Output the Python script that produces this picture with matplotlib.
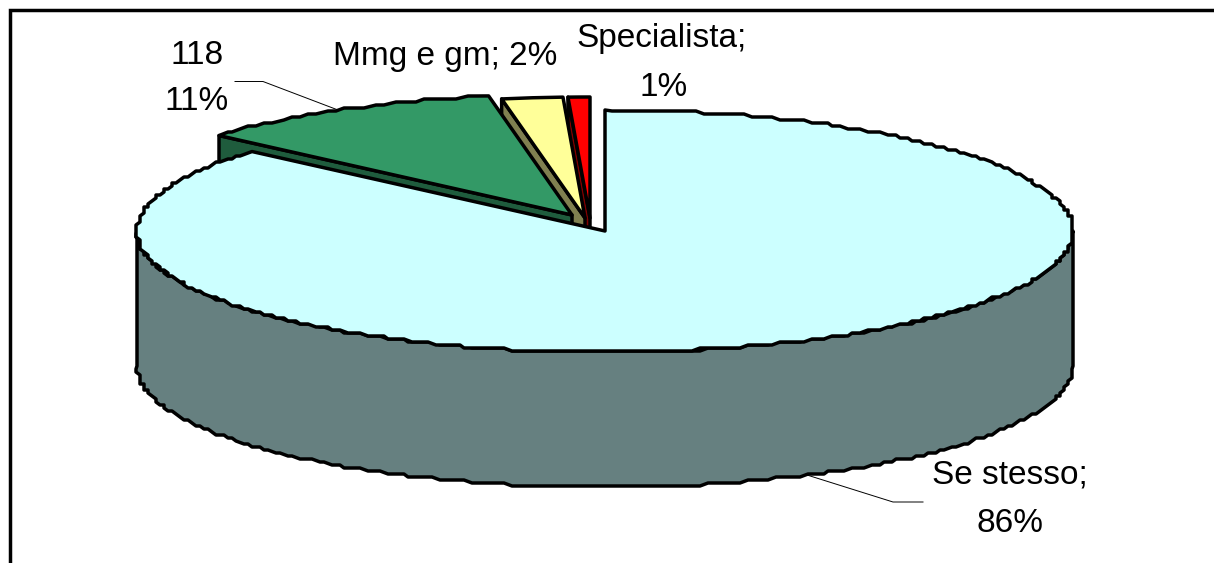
import numpy as np
import matplotlib
matplotlib.use('Agg')
import matplotlib.pyplot as plt
from matplotlib.patches import Polygon

# slices, clockwise from 12 o'clock
labels = ['Se stesso', '118', 'Mmg e gm', 'Specialista']
values = [86.4, 10.75, 2.1, 0.75]
colors = ['#CCFFFF', '#339966', '#FFFF99', '#FF0000']
side_colors = ['#668080', '#1F5C3D', '#808050', '#800000']

# apex of each slice after the explode, in pixels
apex_x = [605, 572, 585, 590]
apex_y = [231, 215, 218, 218]

RX, RY, DEPTH = 468, 121, 135
LW = 2.5

plt.rcParams['font.family'] = ['Liberation Sans', 'DejaVu Sans']

fig = plt.figure(figsize=(12.14, 5.63), dpi=100)
ax = fig.add_axes([0, 0, 1, 1])
ax.set_xlim(0, 1214)
ax.set_ylim(563, 0)
ax.axis('off')


def jag(pts):
    # the original metafile has coarse coordinates, so the rim wobbles a bit
    pts = np.asarray(pts, dtype=float).copy()
    mid = pts[1:-1]
    mid[:, 0] = np.round(mid[:, 0] / 4) * 4
    mid[:, 1] = np.round(mid[:, 1] / 3) * 3
    return pts


def rim(i, t0, t1, n=70):
    t = np.radians(np.linspace(t0, t1, n))
    return np.column_stack([apex_x[i] + RX * np.sin(t), apex_y[i] - RY * np.cos(t)])


def poly(pts, color, z):
    ax.add_patch(Polygon(pts, closed=True, facecolor=color, edgecolor='black',
                         linewidth=LW, joinstyle='round', zorder=z))


edges = np.concatenate([[0], np.cumsum(values)]) * 3.6

# back slices first, main slice last so it covers what is under it
for i in [3, 2, 1]:
    t0, t1 = edges[i], edges[i + 1]
    start = rim(i, t0, t0, 1)[0]
    apex = np.array([apex_x[i], apex_y[i]])
    drop = np.array([0, DEPTH])
    poly([start, apex, apex + drop, start + drop], side_colors[i], 2 + (3 - i))
    arc = rim(i, t0, t1, 30 if i == 1 else 3)
    if i == 1:
        arc = jag(arc)
    poly(np.vstack([[apex], arc]), colors[i], 2 + (3 - i))

# main slice wall and top
wall_top = jag(rim(0, 90, 270, 180))
wall_bot = wall_top + [0, DEPTH]
poly(np.vstack([wall_top, wall_bot[::-1]]), side_colors[0], 6)

arc = jag(rim(0, edges[0], edges[1], 310))
poly(np.vstack([[apex_x[0], apex_y[0]], arc]), colors[0], 7)

# chart frame, only the top and left sides fall inside the crop
ax.plot([10, 10, 1214], [563, 9.5, 9.5], color='black', lw=LW,
        solid_joinstyle='miter', zorder=8)

# leader lines
ax.plot([235, 263, 338], [81.5, 81.5, 110], color='black', lw=0.7, zorder=8)
ax.plot([807, 893, 923], [475, 502, 502], color='black', lw=0.7, zorder=8)

# data labels
pct = [f'{v:.0f}%' for v in values]
fs = 24
ax.text(1010, 475, labels[0] + ';', fontsize=fs, ha='center', va='center')
ax.text(1010, 523, pct[0], fontsize=fs, ha='center', va='center')
ax.text(197, 56, labels[1], fontsize=fs, ha='center', va='center')
ax.text(197, 101, pct[1], fontsize=fs, ha='center', va='center')
ax.text(445, 56, f'{labels[2]}; {pct[2]}', fontsize=fs, ha='center', va='center')
ax.text(662, 38, labels[3] + ';', fontsize=fs, ha='center', va='center')
ax.text(664, 87, pct[3], fontsize=fs, ha='center', va='center')

fig.savefig('out.png', dpi=100, facecolor='white')
